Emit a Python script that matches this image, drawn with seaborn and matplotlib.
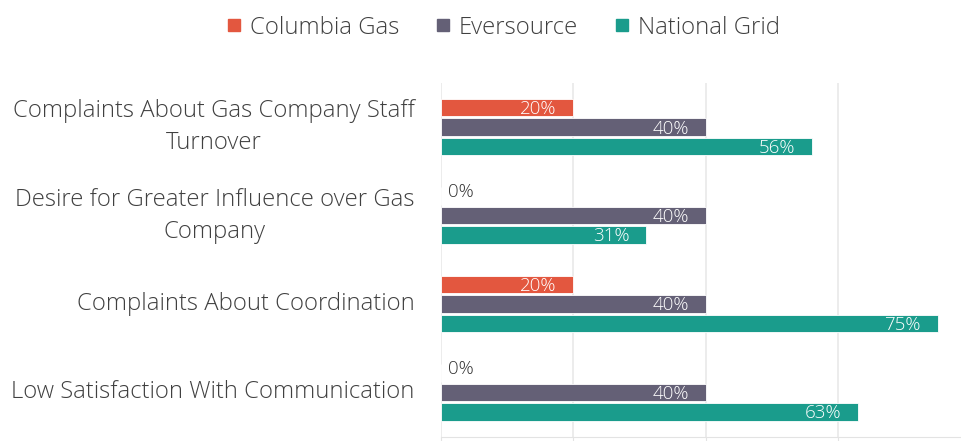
import pandas as pd
import matplotlib.pyplot as plt
import seaborn as sns

# Dados
categories = [
    'Complaints About Gas Company Staff\nTurnover',
    'Desire for Greater Influence over Gas\nCompany',
    'Complaints About Coordination',
    'Low Satisfaction With Communication',
]
companies = ['Columbia Gas', 'Eversource', 'National Grid']
columbia_gas = [0.20, 0.00, 0.20, 0.00]
eversource = [0.40, 0.40, 0.40, 0.40]
national_grid = [0.56, 0.31, 0.75, 0.63]
colors = ['#E3573F', '#646076', '#1A9C8C']

df = pd.DataFrame({
    'Category': categories * 3,
    'Company': [c for c in companies for _ in categories],
    'Value': columbia_gas + eversource + national_grid,
})

sns.set_style('white')
plt.rcParams['font.family'] = ['Open Sans', 'DejaVu Sans']
text_color = '#404040'

fig = plt.figure(figsize=(9.61, 4.41), dpi=100)
ax = fig.add_axes([441 / 961, 1 - 436.5 / 441, 529.6 / 961, 353.5 / 441])

sns.barplot(data=df, y='Category', x='Value', hue='Company', hue_order=companies,
            order=categories, palette=colors, saturation=1, orient='h', width=0.66,
            gap=0.1, edgecolor='white', linewidth=0.6, ax=ax, legend=False)

ax.set_xlim(0, 0.8)
ax.set_xticks([0, 0.2, 0.4, 0.6, 0.8])
ax.set_xticklabels([])
ax.grid(axis='x', color='#EBEBEB', linewidth=1.3)
ax.set_axisbelow(True)
for s in ['top', 'right', 'left']:
    ax.spines[s].set_visible(False)
ax.spines['bottom'].set_color('#E3E3E3')
ax.tick_params(axis='x', length=5, color='#E3E3E3', direction='out', bottom=True)
ax.tick_params(axis='y', length=0, pad=19, labelsize=17.2, labelcolor=text_color)
for lbl in ax.get_yticklabels():
    lbl.set_multialignment('center')
    lbl.set_verticalalignment('center')
    lbl.set_fontweight('light')
    lbl.set_linespacing(1.45)
ax.set_xlabel('')
ax.set_ylabel('')

# Rótulos de dados
for container in ax.containers:
    for bar in container:
        w = bar.get_width()
        yc = bar.get_y() + bar.get_height() / 2
        txt = f'{round(w * 100):.0f}%'
        if w > 0.05:
            ax.annotate(txt, (w, yc), xytext=(-12, -1), textcoords='offset points',
                        ha='right', va='center', color='white', fontsize=13.5,
                        fontweight='light')
        else:
            ax.annotate(txt, (0, yc), xytext=(5, 3), textcoords='offset points',
                        ha='left', va='center', color='#333333', fontsize=13.5,
                        fontweight='light')

# Legenda
handles = [plt.Line2D([], [], marker='s', linestyle='', markersize=8.5, color=c) for c in colors]
fig.legend(handles, companies, loc='center', bbox_to_anchor=(0.523, 0.937), ncol=3,
           frameon=False, handlelength=0.7, handletextpad=0.3, columnspacing=1.5,
           labelcolor=text_color, prop={'weight': 'light', 'size': 17.2})

plt.savefig('out.png', dpi=100)
